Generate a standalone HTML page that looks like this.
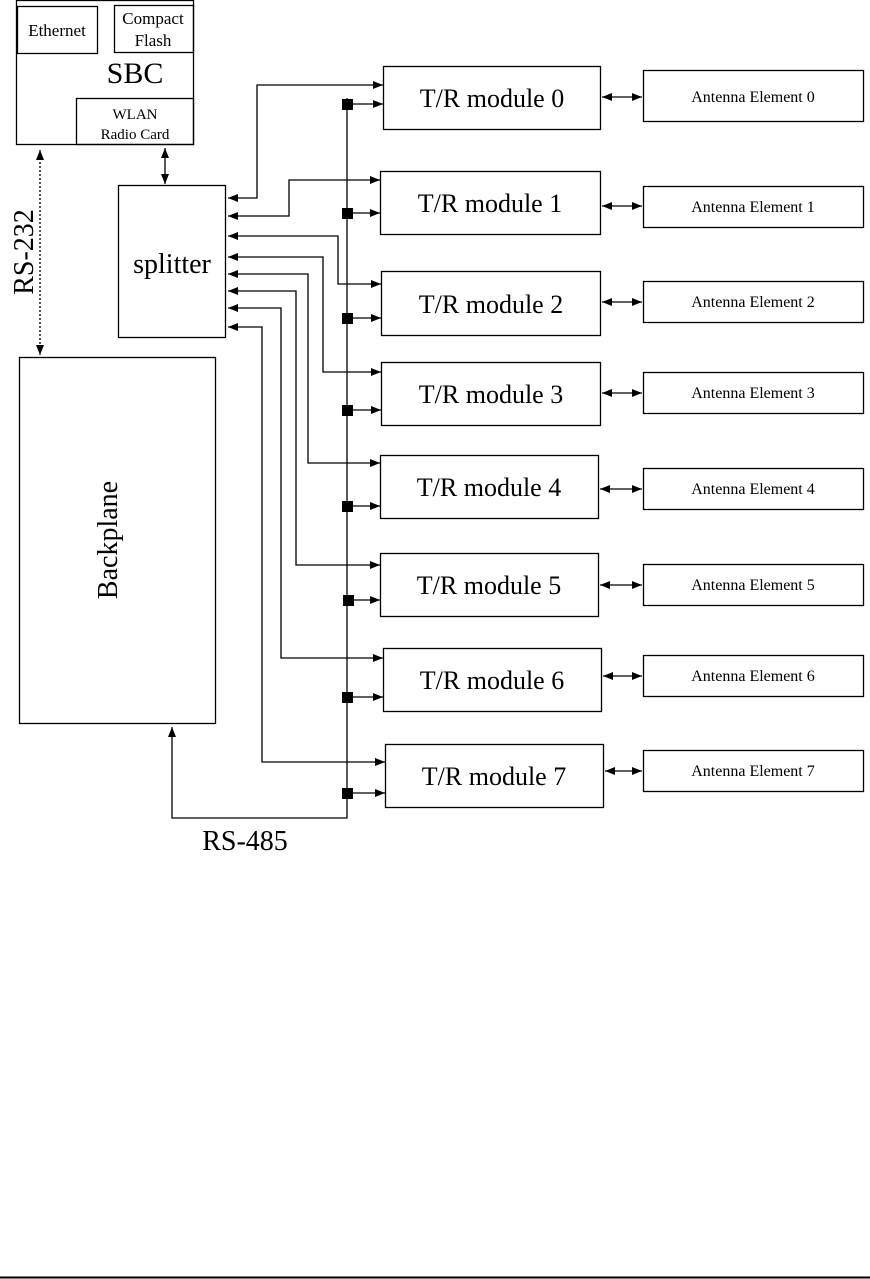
<!DOCTYPE html>
<html><head><meta charset="utf-8"><style>
html,body{margin:0;padding:0;background:#fff;}
svg{display:block;font-family:"Liberation Serif",serif;}
</style></head><body>
<svg width="870" height="1279" viewBox="0 0 870 1279" xmlns="http://www.w3.org/2000/svg">
<defs>
<marker id="a" viewBox="0 0 10 10" refX="10" refY="5" markerWidth="16" markerHeight="10" markerUnits="userSpaceOnUse" orient="auto-start-reverse"><path d="M0,1 L10,5 L0,9 z" fill="#000"/></marker>
</defs>
<g fill="none" stroke="#000" stroke-width="1.3">
<rect x="16.5" y="0.5" width="177" height="144"/>
<rect x="17.5" y="6.5" width="80" height="47"/>
<rect x="114.5" y="5.5" width="79" height="47"/>
<rect x="76.5" y="98.5" width="117" height="46"/>
<rect x="118.5" y="185.5" width="107" height="152"/>
<rect x="19.5" y="357.5" width="196" height="366"/>
<line x1="40" y1="150" x2="40" y2="355" stroke-dasharray="2,2" marker-start="url(#a)" marker-end="url(#a)"/>
<line x1="165" y1="148" x2="165" y2="184" marker-start="url(#a)" marker-end="url(#a)"/>
<polyline points="347,98 347,818 172,818 172,727" marker-end="url(#a)"/>
<polyline points="228,198 257,198 257,85 383,85" marker-start="url(#a)" marker-end="url(#a)"/>
<polyline points="228,216 289,216 289,180 380,180" marker-start="url(#a)" marker-end="url(#a)"/>
<polyline points="228,236 338,236 338,284 381,284" marker-start="url(#a)" marker-end="url(#a)"/>
<polyline points="228,257 323,257 323,372 381,372" marker-start="url(#a)" marker-end="url(#a)"/>
<polyline points="228,274 308,274 308,463 380,463" marker-start="url(#a)" marker-end="url(#a)"/>
<polyline points="228,291 296,291 296,565 380,565" marker-start="url(#a)" marker-end="url(#a)"/>
<polyline points="228,308 281,308 281,658 383,658" marker-start="url(#a)" marker-end="url(#a)"/>
<polyline points="228,327 262,327 262,762 385,762" marker-start="url(#a)" marker-end="url(#a)"/>
<rect x="383.5" y="66.5" width="217" height="63"/>
<rect x="380.5" y="171.5" width="220" height="63"/>
<rect x="381.5" y="271.5" width="219" height="64"/>
<rect x="381.5" y="362.5" width="219" height="63"/>
<rect x="380.5" y="455.5" width="218" height="63"/>
<rect x="380.5" y="553.5" width="218" height="63"/>
<rect x="383.5" y="648.5" width="218" height="63"/>
<rect x="385.5" y="744.5" width="218" height="63"/>
<line x1="347" y1="104" x2="383" y2="104" marker-end="url(#a)"/>
<line x1="347" y1="213" x2="380" y2="213" marker-end="url(#a)"/>
<line x1="347" y1="318" x2="381" y2="318" marker-end="url(#a)"/>
<line x1="347" y1="410" x2="381" y2="410" marker-end="url(#a)"/>
<line x1="347" y1="506" x2="380" y2="506" marker-end="url(#a)"/>
<line x1="347" y1="600" x2="380" y2="600" marker-end="url(#a)"/>
<line x1="347" y1="697" x2="383" y2="697" marker-end="url(#a)"/>
<line x1="347" y1="793" x2="385" y2="793" marker-end="url(#a)"/>
<rect x="643.5" y="70.5" width="220" height="51"/>
<rect x="643.5" y="186.5" width="220" height="41"/>
<rect x="643.5" y="281.5" width="220" height="41"/>
<rect x="643.5" y="372.5" width="220" height="41"/>
<rect x="643.5" y="468.5" width="220" height="41"/>
<rect x="643.5" y="564.5" width="220" height="41"/>
<rect x="643.5" y="655.5" width="220" height="41"/>
<rect x="643.5" y="750.5" width="220" height="41"/>
<line x1="602" y1="97" x2="642" y2="97" marker-start="url(#a)" marker-end="url(#a)"/>
<line x1="602" y1="206" x2="642" y2="206" marker-start="url(#a)" marker-end="url(#a)"/>
<line x1="602" y1="302" x2="642" y2="302" marker-start="url(#a)" marker-end="url(#a)"/>
<line x1="602" y1="393" x2="642" y2="393" marker-start="url(#a)" marker-end="url(#a)"/>
<line x1="600" y1="489" x2="642" y2="489" marker-start="url(#a)" marker-end="url(#a)"/>
<line x1="600" y1="585" x2="642" y2="585" marker-start="url(#a)" marker-end="url(#a)"/>
<line x1="603" y1="676" x2="642" y2="676" marker-start="url(#a)" marker-end="url(#a)"/>
<line x1="605" y1="771" x2="642" y2="771" marker-start="url(#a)" marker-end="url(#a)"/>
<line x1="0" y1="1277.5" x2="870" y2="1277.5" stroke-width="2"/>
</g>
<g fill="#000">
<rect x="342" y="99" width="11" height="11"/>
<rect x="342" y="208" width="11" height="11"/>
<rect x="342" y="313" width="11" height="11"/>
<rect x="342" y="405" width="11" height="11"/>
<rect x="342" y="501" width="11" height="11"/>
<rect x="343" y="595" width="11" height="11"/>
<rect x="342" y="692" width="11" height="11"/>
<rect x="342" y="788" width="11" height="11"/>
</g>
<g fill="#000" text-anchor="middle">
<text x="57" y="36" font-size="17">Ethernet</text>
<text x="153" y="24" font-size="17">Compact</text>
<text x="153" y="46" font-size="17">Flash</text>
<text x="135" y="83" font-size="30">SBC</text>
<text x="135" y="119" font-size="15">WLAN</text>
<text x="135" y="139" font-size="15">Radio Card</text>
<text x="172" y="273" font-size="28">splitter</text>
<text transform="translate(117,540) rotate(-90)" font-size="28">Backplane</text>
<text transform="translate(33,252) rotate(-90)" font-size="28">RS-232</text>
<text x="245" y="850" font-size="28">RS-485</text>
<g font-size="26">
<text x="492" y="107">T/R module 0</text>
<text x="490" y="212">T/R module 1</text>
<text x="491" y="313">T/R module 2</text>
<text x="491" y="403">T/R module 3</text>
<text x="489" y="496">T/R module 4</text>
<text x="489" y="594">T/R module 5</text>
<text x="492" y="689">T/R module 6</text>
<text x="494" y="785">T/R module 7</text>
</g>
<g font-size="16">
<text x="753" y="102">Antenna Element 0</text>
<text x="753" y="212">Antenna Element 1</text>
<text x="753" y="307">Antenna Element 2</text>
<text x="753" y="398">Antenna Element 3</text>
<text x="753" y="494">Antenna Element 4</text>
<text x="753" y="590">Antenna Element 5</text>
<text x="753" y="681">Antenna Element 6</text>
<text x="753" y="776">Antenna Element 7</text>
</g>
</g>
</svg>
</body></html>
